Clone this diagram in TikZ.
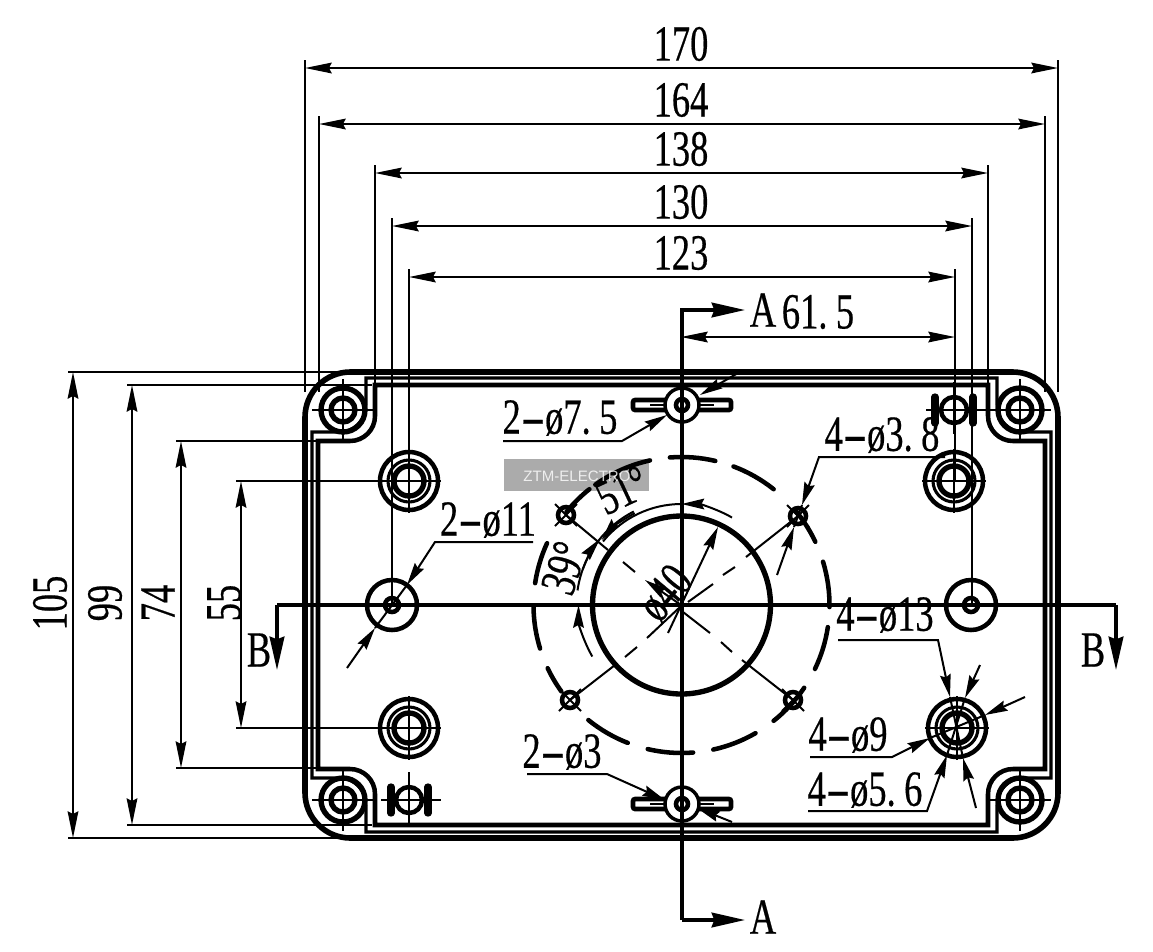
\documentclass[tikz,border=0pt]{standalone}
\usepackage{fontspec}
\usepackage{graphicx}
\usetikzlibrary{arrows.meta}
\newfontfamily\dimfont[FakeStretch=0.72,FakeBold=0.4]{Liberation Serif}
\newfontfamily\markfont{Liberation Sans}
\newcommand{\lhy}{\scalebox{2}[1]{-}}
\newcommand{\arcseg}[4][]{\draw[#1] ([shift={(#2:#4)}]ctr) arc[start angle=#2,end angle=#3,radius=#4];}

\begin{document}
\begin{tikzpicture}[
    x=0.75pt, y=-0.75pt,
    fine/.style={line width=1.5pt},
    medium/.style={line width=2.3pt},
    heavy/.style={line width=3.4pt},
    section/.style={line width=2.6pt},
    dimline/.style={fine, {Stealth[length=20pt,width=8pt,inset=2pt]}-{Stealth[length=20pt,width=8pt,inset=2pt]}},
    leader/.style={fine, -{Stealth[length=17pt,width=8pt,inset=2pt]}},
    cutarrow/.style={section, -{Stealth[length=25pt,width=11pt,inset=2pt]}},
    dimlabel/.style={font=\dimfont\fontsize{38}{38}\selectfont, inner sep=0pt}
]
    \useasboundingbox (0,0) rectangle (1153,951);
    \fill[white] (0,0) rectangle (1153,951);
    \coordinate (ctr) at (681.5,605);

    % Top dimensions
    \foreach \xl/\xr/\ylin/\ybot/\lab in {305/1058/68/392/170, 319/1045/124/392/164, 375/988/173/385/138, 392/972/226/605/130, 409/955/277/481/123} {
        \draw[fine] (\xl,\ylin-8) -- (\xl,\ybot);
        \draw[fine] (\xr,\ylin-8) -- (\xr,\ybot);
        \draw[dimline] (\xl,\ylin) -- (\xr,\ylin);
        \node[dimlabel] (top\lab) at (681,\ylin-24) {\lab};
    }
    \draw[dimline] (681,337) -- (955,337);
    \node[dimlabel] (half) at (818,312) {61.\,5};

    % Left dimensions
    \foreach \ya/\yb/\xlin/\xend/\xtxt/\lab in {372/838/73/350/50/105, 385/825/132/372/105/99, 441/768/181/318/158/74, 481/728/241/409/224/55} {
        \draw[fine] (\xlin-5,\ya) -- (\xend,\ya);
        \draw[fine] (\xlin-5,\yb) -- (\xend,\yb);
        \draw[dimline] (\xlin,\ya) -- (\xlin,\yb);
        \node[dimlabel, rotate=90] (left\lab) at (\xtxt,603) {\lab};
    }

    % Housing walls
    \draw[heavy, line width=4.2pt, rounded corners=34pt] (305,372) rectangle (1058,838);
    \draw[medium] (312,432) -- (312,778) -- (339,778) arc[start angle=-90,end angle=0,radius=27] -- (366,832) -- (997,832) -- (997,805)
        arc[start angle=180,end angle=270,radius=27] -- (1051,778) -- (1051,432) -- (1024,432) arc[start angle=90,end angle=180,radius=27]
        -- (997,378) -- (366,378) -- (366,405) arc[start angle=0,end angle=90,radius=27] -- cycle;
    \draw[heavy] (318,441) -- (318,769) -- (350,769) arc[start angle=-90,end angle=0,radius=25] -- (375,825) -- (988,825) -- (988,794)
        arc[start angle=180,end angle=270,radius=25] -- (1045,769) -- (1045,441) -- (1013,441) arc[start angle=90,end angle=180,radius=25]
        -- (988,385) -- (375,385) -- (375,416) arc[start angle=0,end angle=90,radius=25] -- cycle;

    % Corner holes
    \foreach \cx/\cy in {343/410, 1020/410, 343/800, 1020/800} {
        \draw[heavy, line width=4pt] (\cx,\cy) circle[radius=22];
        \draw[heavy, line width=4pt] (\cx,\cy) circle[radius=12];
        \draw[fine] (\cx-31,\cy) -- (\cx+31,\cy) (\cx,\cy-31) -- (\cx,\cy+31);
    }

    % Round bosses
    \foreach \bx/\by in {409/481, 954/481, 409/728, 957/728} {
        \draw[heavy] (\bx,\by) circle[radius=29];
        \draw[medium] (\bx,\by) circle[radius=21];
        \draw[heavy, line width=4pt] (\bx,\by) circle[radius=15];
        \draw[fine] (\bx-32,\by) -- (\bx+32,\by) (\bx,\by-32) -- (\bx,\by+32);
    }

    % Side pins with bars
    \foreach \px/\py/\ba/\bb in {954/410/935/973, 409/800/391/428} {
        \draw[line width=5.5pt, line cap=round] (\ba,\py-13) -- (\ba,\py+13) (\bb,\py-13) -- (\bb,\py+13);
        \draw[heavy] (\px,\py) circle[radius=13];
        \draw[fine] (\px-28,\py) -- (\px+32,\py) (\px,\py-28) -- (\px,\py+24);
    }

    % Slots
    \foreach \sy in {405, 804} {
        \draw[heavy, rounded corners=1.5pt] (633,\sy-5) rectangle (731,\sy+5);
        \draw[fine] (650,\sy) -- (714,\sy);
        \draw[section, fill=white] (682,\sy) circle[radius=17];
        \draw[heavy] (682,\sy) circle[radius=6];
    }

    % Middle bosses
    \foreach \mx in {392, 971} {
        \draw[heavy] (\mx,605) circle[radius=25];
        \draw[heavy] (\mx,605) circle[radius=7];
    }

    % Pitch circle
    \foreach \sa/\ea in {-94.5/-76.8, -69.4/-51.5, -40/-25.3, -17/0.8, 8.6/25.6, 34/51.5, 60/77.6, 85.5/103.2, 111.3/129, 144.3/154.7, 162.9/179.2, 188.5/204.7, 219/231.5, 234.4/257.7} {
        \arcseg[heavy, line cap=round]{\sa}{\ea}{148}
    }
    \foreach \hx/\hy in {566/515, 798/516, 570/700, 793/700} {
        \draw[heavy] (\hx,\hy) circle[radius=8];
        \draw[fine] (\hx-11,\hy-11) -- (\hx+11,\hy+11) (\hx-11,\hy+11) -- (\hx+11,\hy-11);
    }

    % Central hole and centre lines
    \draw[heavy, line width=4pt] (ctr) circle[radius=89];
    \foreach \xa/\ya/\xb/\yb in {566/515/608/550, 623/562/635/572, 798/516/746/557, 735/567/723/575, 713/584/688/602, 680/607/647/638, 637/647/625/657, 615/665/570/700, 683/612/710/633, 721/642/732/652, 742/660/793/700} {
        \draw[fine] (\xa,\ya) -- (\xb,\yb);
    }

    % Centre section lines
    \draw[cutarrow] (682,920) -- (682,310) -- (745,310);
    \draw[cutarrow] (682,920) -- (745,920);
    \draw[cutarrow] (277,605) -- (277,670);
    \draw[section] (277,605) -- (1116,605);
    \draw[cutarrow] (1116,605) -- (1116,670);
    \node[dimlabel] (cutAtop) at (763,310) {A};
    \node[dimlabel] (cutAbot) at (763,917) {A};
    \node[dimlabel] (cutBleft) at (259,650) {B};
    \node[dimlabel] (cutBright) at (1093,650) {B};

    % Angle arcs
    \arcseg[leader]{-60}{-90}{101}
    \arcseg[fine]{-90}{-141}{101}
    \arcseg[leader]{-117}{-141}{103}
    \arcseg[leader]{150}{180}{103}
    \arcseg[fine]{188}{243}{105}
    \arcseg[leader]{200}{219}{105}
    \node[dimlabel, rotate=25] (angA) at (622,490) {51°};
    \node[dimlabel, rotate=72] (angB) at (564,568) {39°};

    % Diameter of central hole
    \draw[leader] (668,633) -- (718,527);
    \draw[leader] (681,605) -- (645,580);
    \node[dimlabel, rotate=50] (diaA) at (665,593) {ø40};

    % Hole leaders
    \node[dimlabel] (slotA) at (560,418) {2\lhy ø7.\,5};
    \draw[leader] (503,441) -- (622,441) -- (667,415);
    \draw[leader] (738,373) -- (700,395);
    \node[dimlabel] (bossA) at (488,520) {2\lhy ø11};
    \draw[leader] (533,542) -- (435,542) -- (407,585);
    \draw[leader] (347,668) -- (375,628);
    \draw[fine] (407,585) -- (375,628);
    \node[dimlabel] (pitchA) at (882,435) {4\lhy ø3.\,8};
    \draw[leader] (945,457) -- (819,457) -- (802,505);
    \draw[leader] (777,575) -- (794,527);
    \draw[fine] (802,505) -- (794,527);
    \node[dimlabel] (bossB) at (885,615) {4\lhy ø13};
    \draw[leader] (838,640) -- (938,640) -- (950,697);
    \draw[leader] (980,665) -- (965,698);
    \draw[leader] (1025,697) -- (985,715);
    \node[dimlabel] (bossC) at (848,735) {4\lhy ø9};
    \draw[leader] (810,757) -- (892,757) -- (930,738);
    \node[dimlabel] (bossD) at (865,790) {4\lhy ø5.\,6};
    \draw[leader] (808,811) -- (927,811) -- (947,755);
    \draw[leader] (976,808) -- (963,758);
    \draw[fine] (950,697) -- (963,758) (965,698) -- (947,755) (985,715) -- (930,738);
    \node[dimlabel] (slotB) at (562,752) {2\lhy ø3};
    \draw[leader] (527,774) -- (607,774) -- (665,800);
    \draw[leader] (732,822) -- (697,808);

    % Watermark
    \fill[black, fill opacity=0.33] (504,459) rectangle (649,491);
    \node[font=\markfont\fontsize{11.3}{12}\selectfont, text=white, text opacity=0.8, inner sep=0pt] (mark) at (577,476) {ZTM-ELECTRO};
\end{tikzpicture}
\end{document}
